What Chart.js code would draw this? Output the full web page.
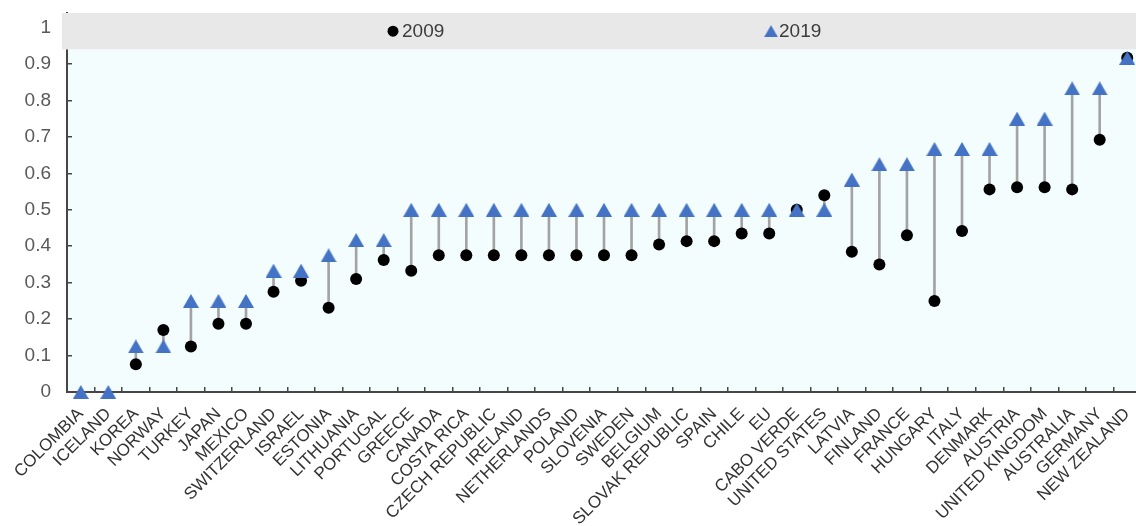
<!DOCTYPE html>
<html>
<head>
<meta charset="utf-8">
<script src="https://cdn.jsdelivr.net/npm/chart.js@4"></script>
<style>
  html, body { margin: 0; padding: 0; background: #fff; overflow: hidden; }
  #wrap { width: 1141px; height: 526px; }
</style>
</head>
<body>
<div id="wrap"><canvas id="myChart"></canvas></div>
<script>
// Countries, sorted as in the figure
const countries = [
  "COLOMBIA", "ICELAND", "KOREA", "NORWAY", "TURKEY", "JAPAN", "MEXICO",
  "SWITZERLAND", "ISRAEL", "ESTONIA", "LITHUANIA", "PORTUGAL", "GREECE",
  "CANADA", "COSTA RICA", "CZECH REPUBLIC", "IRELAND", "NETHERLANDS",
  "POLAND", "SLOVENIA", "SWEDEN", "BELGIUM", "SLOVAK REPUBLIC", "SPAIN",
  "CHILE", "EU", "CABO VERDE", "UNITED STATES", "LATVIA", "FINLAND",
  "FRANCE", "HUNGARY", "ITALY", "DENMARK", "AUSTRIA", "UNITED KINGDOM",
  "AUSTRALIA", "GERMANY", "NEW ZEALAND"
];

// Index values (no 2009 marker for Colombia and Iceland)
const values2009 = [
  null, null, 0.076, 0.17, 0.125, 0.1875, 0.1875, 0.275, 0.305, 0.231, 0.31, 0.362,
  0.333, 0.375, 0.375, 0.375, 0.375, 0.375, 0.375, 0.375, 0.375, 0.405,
  0.414, 0.414, 0.435, 0.435, 0.5, 0.54, 0.385, 0.35, 0.43, 0.25, 0.442,
  0.556, 0.562, 0.562, 0.556, 0.692, 0.917
];
const values2019 = [
  0, 0, 0.125, 0.125, 0.25, 0.25, 0.25, 0.333, 0.333, 0.375, 0.417, 0.417,
  0.5, 0.5, 0.5, 0.5, 0.5, 0.5, 0.5, 0.5, 0.5, 0.5, 0.5, 0.5, 0.5, 0.5, 0.5,
  0.5, 0.583, 0.625, 0.625, 0.667, 0.667, 0.667, 0.75, 0.75, 0.833, 0.833,
  0.917
];

const seriesNames = ["2009", "2019"];
const yTickValues = [0, 0.1, 0.2, 0.3, 0.4, 0.5, 0.6, 0.7, 0.8, 0.9, 1];

// Styles
const circleColor = "#000000";
const triangleColor = "#4472C4";
const linkColor = "#a3a3a3";
const axisColor = "#464646";
const plotColor = "#f3fdfe";
const bandColor = "#e8e8e8";
const labelFont = "'Liberation Sans', Arial, sans-serif";

// Triangle marker drawn into a small canvas so its box is centred on the value
function makeTriangle(w, h) {
  const c = document.createElement("canvas");
  c.width = w;
  c.height = h;
  const g = c.getContext("2d");
  g.fillStyle = triangleColor;
  g.beginPath();
  g.moveTo(w / 2, 0);
  g.lineTo(w, h);
  g.lineTo(0, h);
  g.closePath();
  g.fill();
  return c;
}
const triangleMarker = makeTriangle(16, 14);

// Light plot background, grey legend band on top, legend inside the band
const backgroundPlugin = {
  id: "background",
  beforeDraw(chart) {
    const { ctx, chartArea, scales } = chart;
    const yTop = scales.y.getPixelForValue(0.94);
    ctx.save();
    ctx.fillStyle = plotColor;
    ctx.fillRect(chartArea.left, yTop, chartArea.right - chartArea.left, chartArea.bottom - yTop);
    ctx.restore();
  },
  afterDraw(chart) {
    const { ctx, chartArea, scales } = chart;
    const yBottom = scales.y.getPixelForValue(0.94);
    ctx.save();
    ctx.fillStyle = bandColor;
    ctx.fillRect(chartArea.left - 5, chartArea.top, chartArea.right - chartArea.left + 5, yBottom - chartArea.top);

    // legend entries
    const yMid = (chartArea.top + yBottom) / 2;
    ctx.font = "19px " + labelFont;
    ctx.textBaseline = "middle";
    ctx.textAlign = "left";
    ctx.fillStyle = circleColor;
    ctx.beginPath();
    ctx.arc(393, yMid, 5.5, 0, Math.PI * 2);
    ctx.fill();
    ctx.fillStyle = "#3c3c3c";
    ctx.fillText(seriesNames[0], 402, yMid + 1);
    ctx.drawImage(triangleMarker, 771 - 7, yMid - 6, 14, 12);
    ctx.fillText(seriesNames[1], 779, yMid + 1);
    ctx.restore();
  },
};

const ctx = document.getElementById("myChart");

const chart = new Chart(ctx, {
  type: "bar",
  data: {
    labels: countries,
    datasets: [
      {
        // vertical link between the two years
        type: "bar",
        label: "link",
        data: values2009.map((v, i) => (v === null ? null : [v, values2019[i]])),
        backgroundColor: linkColor,
        barThickness: 2,
        order: 3,
      },
      {
        type: "line",
        label: seriesNames[0],
        data: values2009,
        showLine: false,
        pointStyle: "circle",
        pointRadius: 6,
        pointBackgroundColor: circleColor,
        pointBorderWidth: 0,
        clip: false,
        order: 2,
      },
      {
        type: "line",
        label: seriesNames[1],
        data: values2019,
        showLine: false,
        pointStyle: triangleMarker,
        pointRadius: 8,
        clip: false,
        order: 1,
      },
    ],
  },
  options: {
    responsive: true,
    maintainAspectRatio: false,
    animation: false,
    layout: {
      autoPadding: false,
      padding: { top: 13, right: 0, left: 0, bottom: 0 },
    },
    plugins: {
      legend: { display: false },
      tooltip: { enabled: false },
    },
    scales: {
      x: {
        offset: true,
        grid: {
          offset: true,
          drawOnChartArea: false,
          tickLength: -5,
          color: axisColor,
          lineWidth: 1.5,
        },
        border: { color: axisColor, width: 2 },
        ticks: {
          autoSkip: false,
          maxRotation: 45,
          minRotation: 45,
          padding: 17,
          color: "#333333",
          font: { family: labelFont, size: 17 },
        },
        afterFit: function (scale) {
          scale.height = 134;
          scale.paddingLeft = 0;
          scale.paddingRight = 0;
        },
      },
      y: {
        min: 0,
        max: 1.04,
        grid: {
          drawOnChartArea: false,
          tickLength: -5,
          color: axisColor,
          lineWidth: 1.5,
        },
        border: { color: axisColor, width: 2 },
        ticks: {
          padding: 21,
          color: "#595959",
          font: { family: labelFont, size: 19 },
          callback: function (value) {
            return String(Number(value.toFixed(1)));
          },
        },
        afterBuildTicks: function (scale) {
          scale.ticks = yTickValues.map((v) => ({ value: v }));
        },
        afterFit: function (scale) {
          scale.width = 67;
          scale.paddingTop = 0;
          scale.paddingBottom = 0;
        },
      },
    },
  },
  plugins: [backgroundPlugin],
});
</script>
</body>
</html>
